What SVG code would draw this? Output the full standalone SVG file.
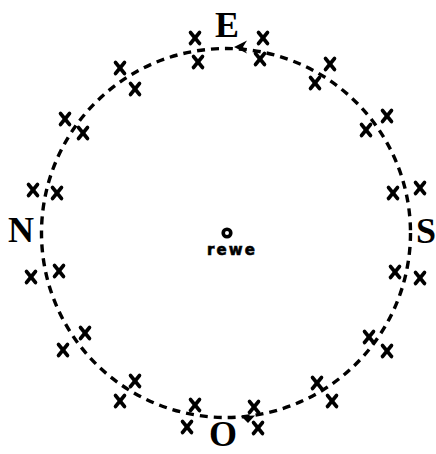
<svg xmlns="http://www.w3.org/2000/svg" width="436" height="454" viewBox="0 0 436 454">
<style>
.ring{fill:none;stroke:#000;stroke-width:3.4;stroke-dasharray:8 6;}
.x{stroke:#000;stroke-width:3.6;stroke-linecap:round;fill:none;}
.card{font-family:"Liberation Serif","Times New Roman",serif;font-weight:bold;font-size:36px;fill:#000;text-anchor:middle;}
.lbl{font-family:"DejaVu Sans",sans-serif;font-weight:bold;font-size:15px;fill:#000;stroke:#000;stroke-width:0.6;}
</style>
<defs>
<g id="xm"><line class="x" x1="-4.5" y1="-5.5" x2="4.5" y2="5.5"/><line class="x" x1="4.5" y1="-5.5" x2="-4.5" y2="5.5"/></g>
</defs>
<rect width="436" height="454" fill="#fff"/>
<g id="connectors">
<circle class="ring" cx="226" cy="233" r="184.5"/>
<path d="M234,47 L247,40.5 L243,47 L247,53.5 Z" fill="#000"/>
<path d="M241,416 L255,415.5 L248,423 Z" fill="#000"/>
</g>
<g id="crosses">
<use href="#xm" x="195" y="38"/><use href="#xm" x="198" y="62"/>
<use href="#xm" x="263" y="38"/><use href="#xm" x="260" y="59"/>
<use href="#xm" x="120" y="68"/><use href="#xm" x="135" y="89"/>
<use href="#xm" x="65" y="119"/><use href="#xm" x="83" y="133"/>
<use href="#xm" x="33" y="190"/><use href="#xm" x="57" y="193"/>
<use href="#xm" x="31" y="277"/><use href="#xm" x="59" y="271"/>
<use href="#xm" x="63" y="350"/><use href="#xm" x="85" y="333"/>
<use href="#xm" x="120" y="401"/><use href="#xm" x="135" y="381"/>
<use href="#xm" x="187" y="427"/><use href="#xm" x="195" y="405"/>
<use href="#xm" x="258" y="428"/><use href="#xm" x="254" y="407"/>
<use href="#xm" x="332" y="401"/><use href="#xm" x="317" y="383"/>
<use href="#xm" x="387" y="351"/><use href="#xm" x="369" y="337"/>
<use href="#xm" x="420" y="278"/><use href="#xm" x="395" y="272"/>
<use href="#xm" x="420" y="188"/><use href="#xm" x="393" y="193"/>
<use href="#xm" x="387" y="116"/><use href="#xm" x="366" y="130"/>
<use href="#xm" x="330" y="64"/><use href="#xm" x="315" y="83"/>
</g>
<g id="node-E"><text class="card" x="227" y="37">E</text></g>
<g id="node-N"><text class="card" x="21" y="242">N</text></g>
<g id="node-S"><text class="card" x="426" y="243">S</text></g>
<g id="node-O"><text class="card" x="223" y="446" font-size="33">O</text></g>
<g id="node-rewe">
<circle cx="227" cy="233" r="3.8" fill="none" stroke="#000" stroke-width="3.6"/>
<text class="lbl" x="207" y="255" textLength="48" lengthAdjust="spacing">rewe</text>
</g>
</svg>
